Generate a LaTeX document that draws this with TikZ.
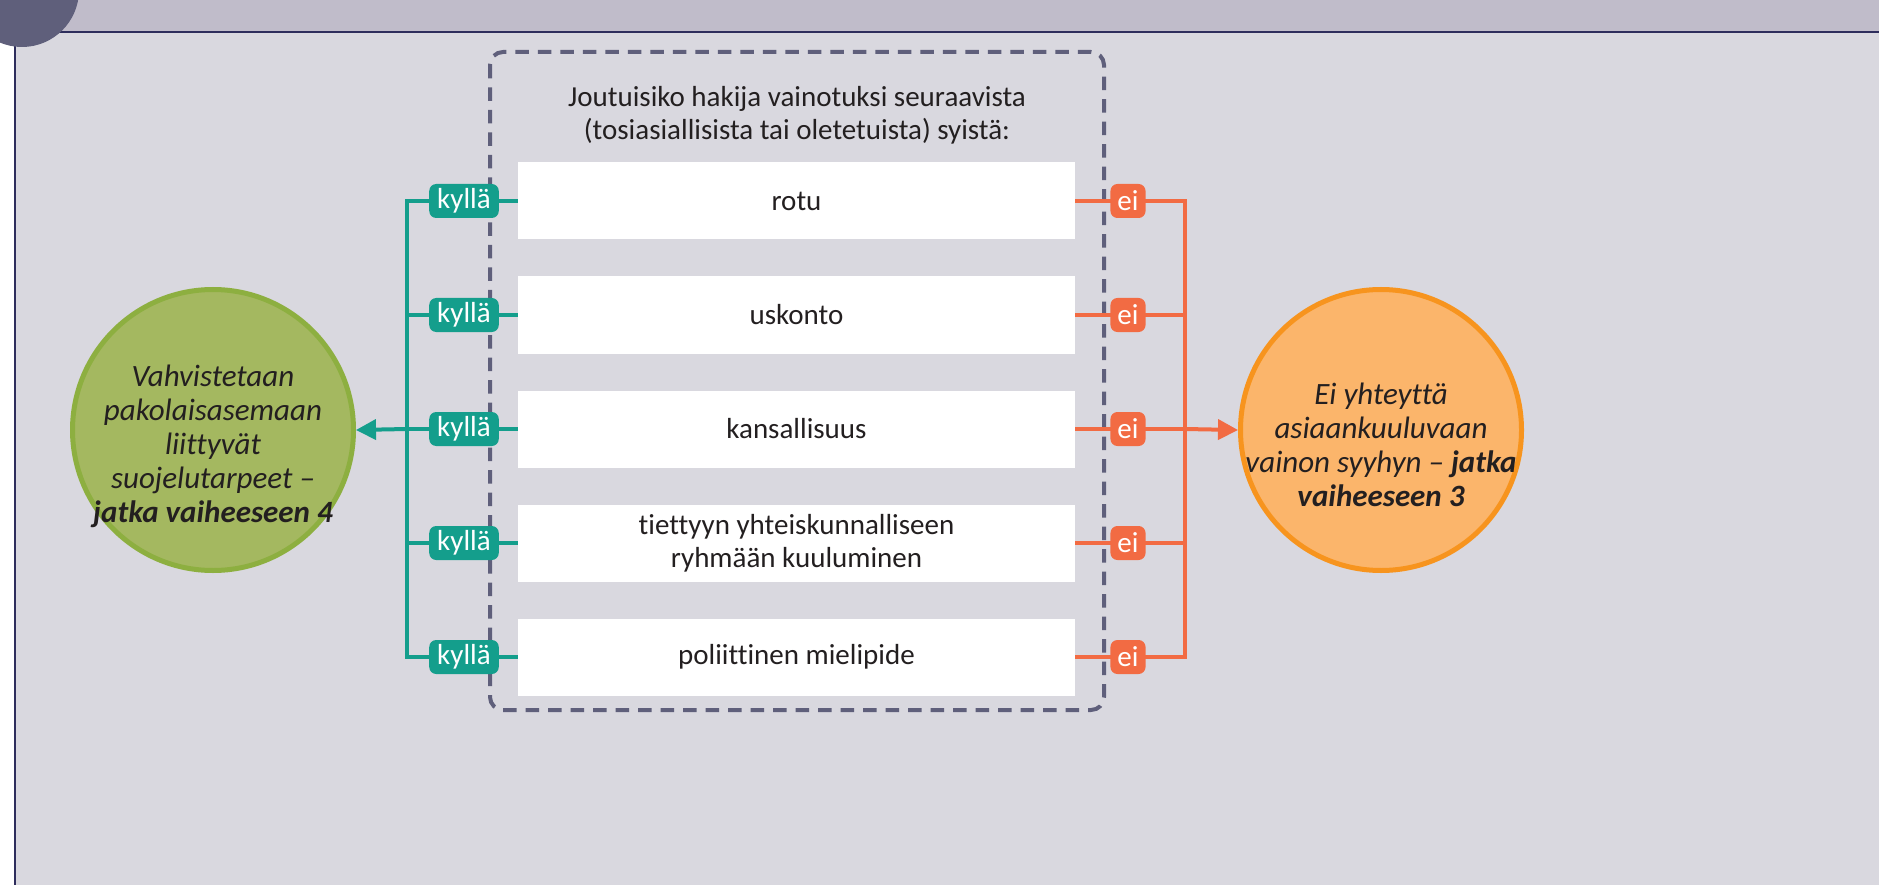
\documentclass[tikz,border=0pt]{standalone}
\usepackage{fontspec}
\setmainfont{Carlito}[Ligatures=NoCommon]
\usetikzlibrary{arrows.meta}
\usepackage{xcolor}

\definecolor{panelbg}{HTML}{D9D8DF}
\definecolor{headbg}{HTML}{C0BCCA}
\definecolor{navyline}{HTML}{2E2D5C}
\definecolor{slate}{HTML}{5F5F7B}
\definecolor{yesteal}{HTML}{149E8C}
\definecolor{noorange}{HTML}{F26B43}
\definecolor{posfill}{HTML}{A4B860}
\definecolor{posdraw}{HTML}{8DAF40}
\definecolor{negfill}{HTML}{FBB56B}
\definecolor{negdraw}{HTML}{F7941E}
\definecolor{textdark}{HTML}{231F20}

\begin{document}
\begin{tikzpicture}[x=1pt,y=-1pt,
  every node/.style={font=\fontsize{29}{33}\selectfont,text=textdark},
  reason/.style={fill=white,minimum width=557pt,minimum height=77pt,align=center,inner sep=0pt},
  yestag/.style={fill=yesteal,text=white,rounded corners=7pt,minimum height=34pt,inner xsep=8pt,inner ysep=0pt},
  notag/.style={fill=noorange,text=white,rounded corners=7pt,minimum height=34pt,inner xsep=7pt,inner ysep=0pt},
  yesline/.style={draw=yesteal,line width=4pt},
  noline/.style={draw=noorange,line width=4pt},
  outcome/.style={circle,line width=5pt,minimum size=281pt,inner sep=0pt},
  outtext/.style={align=center,font=\itshape\fontsize{31}{34}\selectfont}]
  \useasboundingbox (0,0) rectangle (1879,885);

  % panel and header
  \fill[panelbg] (15,32) rectangle (1879,885);
  \fill[headbg] (0,0) rectangle (1879,32);
  \draw[navyline,line width=1.5pt] (15,885) -- (15,32) -- (1879,32);
  \fill[slate] (22,-10) circle (57);

  % question frame
  \draw[slate,line width=4pt,dash pattern=on 13.5pt off 9pt,rounded corners=13pt]
    (490,52) rectangle (1104,710);
  \node[align=center] (question) at (797,115)
    {Joutuisiko hakija vainotuksi seuraavista\\(tosiasiallisista tai oletetuista) syistä:};

  % grounds with yes / no tags
  \foreach \txt [count=\i, evaluate={\yy=201+114*(\i-1);}]
     in {rotu,uskonto,kansallisuus,{tiettyyn yhteiskunnalliseen\\ryhmään kuuluminen},poliittinen mielipide}{
    \node[reason] (r\i) at (796.5,\yy) {\txt};
    \coordinate (gl\i) at (407,\yy);
    \coordinate (or\i) at (1185,\yy);
    \draw[yesline] (r\i.west) -- (gl\i);
    \draw[noline] (r\i.east) -- (or\i);
    \node[yestag] (y\i) at (464,\yy) {kyllä};
    \node[notag] (n\i) at (1128,\yy) {ei};
  }
  \draw[yesline] (y1.west) -- (gl1) -- (gl5) -- (y5.west);
  \draw[noline] (n1.east) -- (or1) -- (or5) -- (n5.east);

  % outcomes
  \node[outcome,fill=posfill,draw=posdraw] (pos) at (213,430) {};
  \node[outtext] (postext) at ([yshift=-16pt]pos.center)
    {Vahvistetaan\\pakolaisasemaan\\liittyvät\\suojelutarpeet –\\\textbf{jatka vaiheeseen 4}};
  \node[outcome,fill=negfill,draw=negdraw] (neg) at (1381,430) {};
  \node[outtext] (negtext) at ([yshift=-15pt]neg.center)
    {Ei yhteyttä\\asiaankuuluvaan\\vainon syyhyn – \textbf{jatka}\\\textbf{vaiheeseen 3}};
  \draw[yesline,-{Triangle[length=20pt,width=20pt]}] (gl3) -- (pos.east);
  \draw[noline,-{Triangle[length=20pt,width=20pt]}] (or3) -- (neg.west);
\end{tikzpicture}
\end{document}
